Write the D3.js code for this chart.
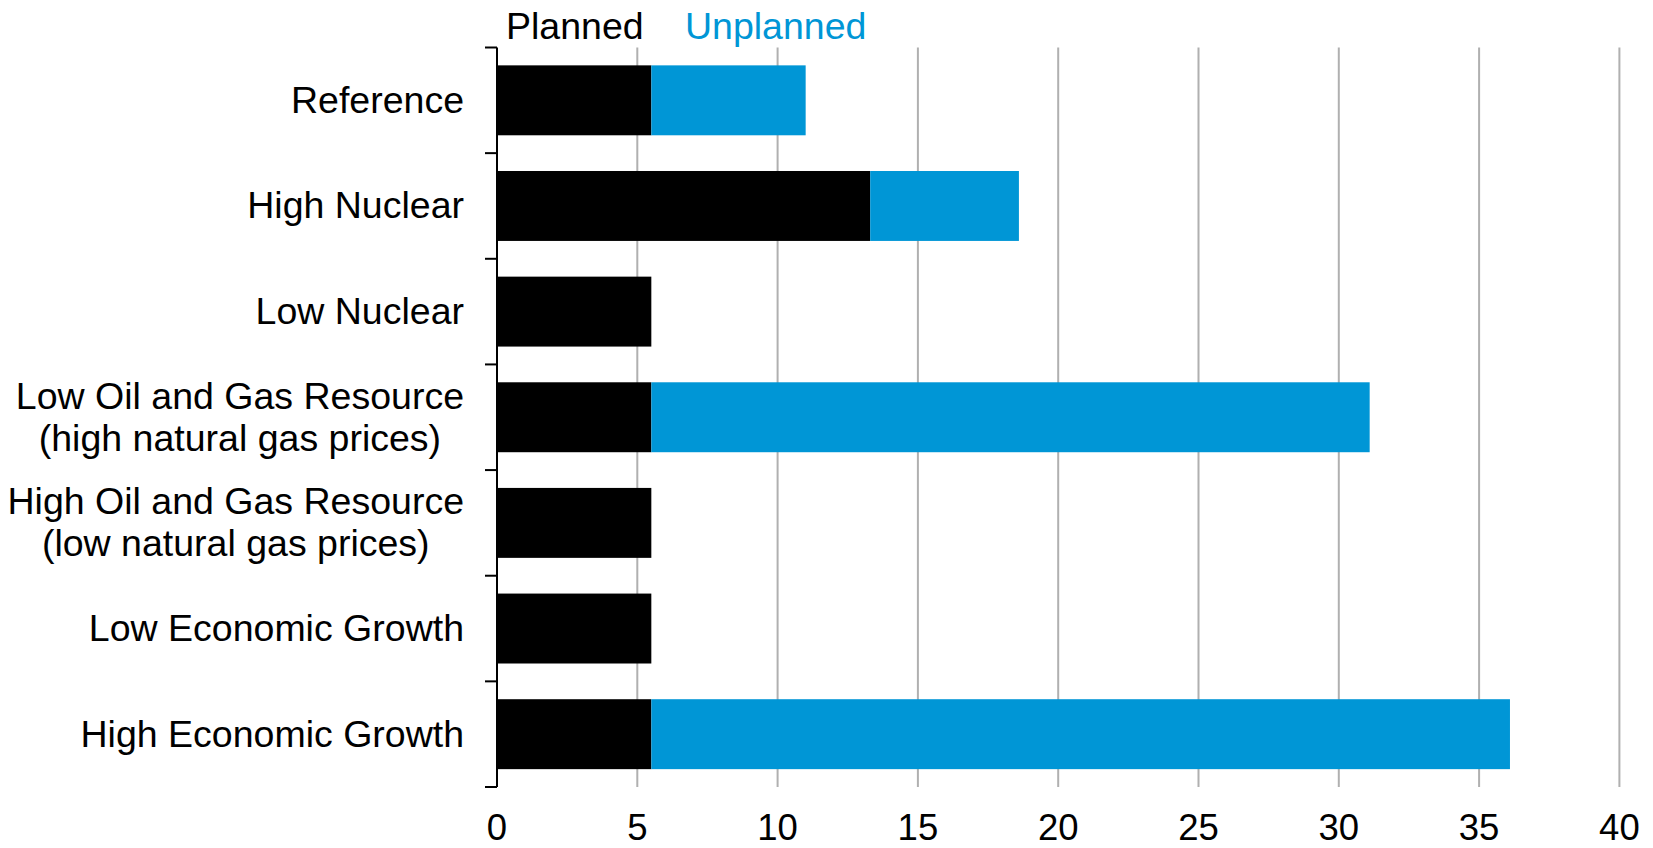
<!DOCTYPE html>
<html>
<head>
<meta charset="utf-8">
<script src="https://cdn.jsdelivr.net/npm/d3@7"></script>
<style>
  html, body { margin: 0; padding: 0; background: #fff; }
  svg { display: block; }
  text { font-family: "Liberation Sans", Arial, sans-serif; }
</style>
</head>
<body>
<svg id="chart" width="1653" height="848"></svg>
<script>
const categories = [
  ["Reference"],
  ["High Nuclear"],
  ["Low Nuclear"],
  ["Low Oil and Gas Resource", "(high natural gas prices)"],
  ["High Oil and Gas Resource", "(low natural gas prices)"],
  ["Low Economic Growth"],
  ["High Economic Growth"]
];
const planned   = [5.5, 13.3, 5.5, 5.5, 5.5, 5.5, 5.5];
const unplanned = [5.5, 5.3, 0, 25.6, 0, 0, 30.6];
const seriesNames = ["Planned", "Unplanned"];
const seriesColors = ["#000000", "#0096d6"];
const xTicks = [0, 5, 10, 15, 20, 25, 30, 35, 40];

const svg = d3.select("#chart");
const mLeft = 497, mRight = 1619.4, mTop = 47.5, mBottom = 787;
const fontSize = 37.5;
const tickFont = 36.5;

const x = d3.scaleLinear().domain([0, 40]).range([mLeft, mRight]);
const keys = categories.map((c, i) => i);
const y = d3.scaleBand().domain(keys).range([mTop, mBottom]).paddingInner(0.338).paddingOuter(0.169);

// gridlines
svg.append("g").selectAll("line").data(xTicks.filter(d => d > 0)).join("line")
  .attr("x1", d => x(d)).attr("x2", d => x(d))
  .attr("y1", mTop).attr("y2", mBottom)
  .attr("stroke", "#b0b0b0").attr("stroke-width", 2);

// stacked bars
const rows = keys.map(i => ({i, planned: planned[i], unplanned: unplanned[i]}));
const stack = d3.stack().keys(["planned", "unplanned"])(rows);
svg.append("g").selectAll("g").data(stack).join("g")
  .attr("fill", (d, k) => seriesColors[k])
  .selectAll("rect").data(d => d.filter(s => s[1] - s[0] > 0)).join("rect")
  .attr("x", d => x(d[0]))
  .attr("width", d => x(d[1]) - x(d[0]))
  .attr("y", d => y(d.data.i))
  .attr("height", y.bandwidth());

// left axis line + ticks at band boundaries
const boundaries = d3.range(categories.length + 1).map(k => mTop + k * (mBottom - mTop) / categories.length);
svg.append("line").attr("x1", mLeft).attr("x2", mLeft).attr("y1", mTop).attr("y2", mBottom)
  .attr("stroke", "#000").attr("stroke-width", 2);
svg.append("g").selectAll("line").data(boundaries).join("line")
  .attr("x1", mLeft - 12).attr("x2", mLeft)
  .attr("y1", d => d).attr("y2", d => d)
  .attr("stroke", "#000").attr("stroke-width", 2);

// category labels (multi-line centered among themselves, block right-aligned)
const labelRight = 464;
const lineH = 42;
categories.forEach((lines, i) => {
  const cy = y(i) + y.bandwidth() / 2;
  const g = svg.append("g");
  const texts = lines.map((ln, j) => g.append("text")
    .attr("font-size", fontSize).attr("fill", "#000")
    .attr("y", cy + 0.33 * fontSize + (j - (lines.length - 1) / 2) * lineH)
    .text(ln));
  const widths = texts.map(t => t.node().getComputedTextLength());
  const maxW = d3.max(widths);
  texts.forEach(t => t.attr("text-anchor", "middle").attr("x", labelRight - maxW / 2));
});

// x tick labels
svg.append("g").selectAll("text").data(xTicks).join("text")
  .attr("x", d => x(d)).attr("y", 840)
  .attr("text-anchor", "middle").attr("font-size", tickFont).attr("fill", "#000")
  .text(d => d);

// legend
const legendX = [506, 685];
svg.append("g").selectAll("text").data(seriesNames).join("text")
  .attr("x", (d, k) => legendX[k]).attr("y", 39)
  .attr("font-size", fontSize)
  .attr("fill", (d, k) => seriesColors[k])
  .text(d => d);
</script>
</body>
</html>
